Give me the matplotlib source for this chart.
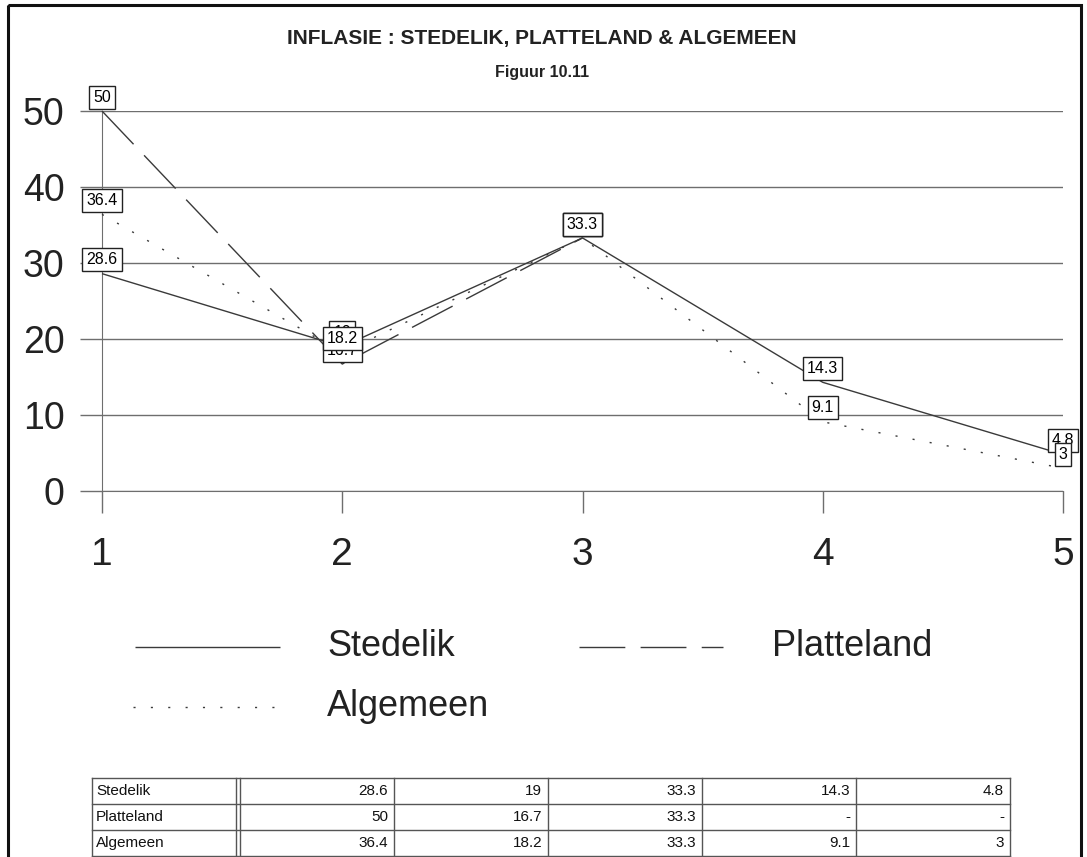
import numpy as np
import matplotlib
matplotlib.use('Agg')
import matplotlib.pyplot as plt
from matplotlib.lines import Line2D
from matplotlib.patches import Rectangle

plt.rcParams['font.family'] = ['Liberation Sans']
plt.rcParams['lines.scale_dashes'] = False
NARROW = ['Liberation Sans Narrow', 'Liberation Sans']

# data
periods = [1, 2, 3, 4, 5]
series_names = ['Stedelik', 'Platteland', 'Algemeen']
stedelik = [28.6, 19, 33.3, 14.3, 4.8]
platteland = [50, 16.7, 33.3, np.nan, np.nan]
algemeen = [36.4, 18.2, 33.3, 9.1, 3]
yticks = [0, 10, 20, 30, 40, 50]

title = 'INFLASIE : STEDELIK, PLATTELAND & ALGEMEEN'
subtitle = 'Figuur 10.11'

W, H = 1087, 857
fig = plt.figure(figsize=(W / 100, H / 100), dpi=100)

line_col = '#3a3a3a'
grid_col = '#6e6e6e'
styles = {
    'Stedelik': (0, ()),
    'Platteland': (0, (33, 11)),
    'Algemeen': (0, (1.5, 11)),
}
all_series = [stedelik, platteland, algemeen]

ax = fig.add_axes([102 / W, 1 - 491 / H, (1063 - 102) / W, (491 - 111) / H])
ax.set_xlim(1, 5)
ax.set_ylim(0, 50)
for name, vals in zip(series_names, all_series):
    ax.plot(periods, vals, color=line_col, lw=1.0, linestyle=styles[name],
            clip_on=False, zorder=3)

# value labels
for name, vals in zip(series_names, all_series):
    for x, v in zip(periods, vals):
        if np.isnan(v):
            continue
        ax.annotate(f'{v:g}', (x, v), xytext=(0, 10), textcoords='offset points',
                    ha='center', va='center', fontsize=11.5, family=NARROW,
                    annotation_clip=False, zorder=5,
                    bbox=dict(boxstyle='square,pad=0.25', fc='white',
                              ec='#222222', lw=1.0))

ax.set_yticks(yticks)
ax.set_xticks(periods)
ax.yaxis.grid(True, color=grid_col, lw=1.0)
ax.set_axisbelow(True)
for s in ['top', 'right']:
    ax.spines[s].set_visible(False)
ax.spines['left'].set_color(grid_col)
ax.spines['bottom'].set_color(grid_col)
ax.tick_params(axis='y', length=16, width=1.0, color=grid_col, pad=11,
               labelsize=27, labelcolor='#222222')
ax.tick_params(axis='x', length=16, width=1.0, color=grid_col, pad=17,
               labelsize=28, labelcolor='#222222')

# overlay in pixel coordinates for frame, titles, legend and table
ov2 = fig.add_axes([0, 0, 1, 1], zorder=10)
ov2.set_xlim(0, W)
ov2.set_ylim(H, 0)
ov2.axis('off')
ov2.patch.set_alpha(0)

ov2.add_patch(Rectangle((8, 5), 1073, 860, fill=False, ec='#111111', lw=2.2,
                        clip_on=False))
ov2.text(542, 38, title, ha='center', va='center', fontsize=15,
         fontweight='bold', family=NARROW, color='#222222')
ov2.text(542, 72, subtitle, ha='center', va='center', fontsize=11.5,
         fontweight='bold', family=NARROW, color='#222222')

# legend
leg_pos = {'Stedelik': (135, 280, 327, 647),
           'Platteland': (579, 723, 772, 647),
           'Algemeen': (133, 275, 327, 707)}
for name in series_names:
    x0, x1, tx, y = leg_pos[name]
    ov2.add_line(Line2D([x0, x1], [y, y], color=line_col, lw=1.0,
                        linestyle=styles[name]))
    ov2.text(tx, y, name, ha='left', va='center', fontsize=26,
             color='#222222')

# table
t_left, t_lab, t_top, row_h, col_w = 92, 236, 778, 26, 154
t_right = t_lab + 4 + 5 * col_w
tab_col = '#555555'
for r in range(4):
    y = t_top + r * row_h
    ov2.add_line(Line2D([t_left, t_right], [y, y], color=tab_col, lw=1.0))
for xv in [t_left, t_lab, t_lab + 4] + [t_lab + 4 + (k + 1) * col_w for k in range(5)]:
    ov2.add_line(Line2D([xv, xv], [t_top, t_top + 3 * row_h], color=tab_col, lw=1.0))
for r, (name, vals) in enumerate(zip(series_names, all_series)):
    yc = t_top + r * row_h + row_h / 2
    ov2.text(t_left + 4, yc, name, ha='left', va='center', fontsize=11,
             family=NARROW, color='#111111')
    for k, v in enumerate(vals):
        txt = '-' if np.isnan(v) else f'{v:g}'
        ov2.text(t_lab + 4 + (k + 1) * col_w - 6, yc, txt, ha='right',
                 va='center', fontsize=11, family=NARROW, color='#111111')

fig.savefig('out.png', dpi=100, facecolor='white')
